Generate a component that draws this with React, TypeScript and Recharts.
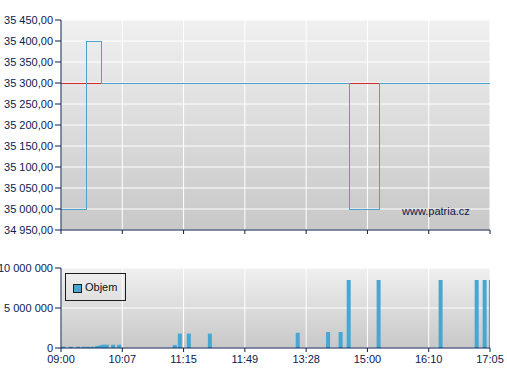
import React from 'react';
import { ComposedChart, Line, Bar, XAxis, YAxis, CartesianGrid, Legend } from 'recharts';

// session slots on the x axis (labels are not linear in time)
const xTickSlots = [0, 60, 120, 180, 240, 300, 360, 420];
const xTickLabels = ['09:00', '10:07', '11:15', '11:49', '13:28', '15:00', '16:10', '17:05'];

const priceTicks = [34950, 35000, 35050, 35100, 35150, 35200, 35250, 35300, 35350, 35400, 35450];
const priceSlots = [0, 25, 40, 282, 311.5, 420];
const priceValues = [35000, 35400, 35300, 35000, 35300, 35300];
const refPrice = 35300;

const volumeTicks = [0, 5000000, 10000000];
const volumeSlots = [2.3, 9.8, 17.1, 22.5, 26.7, 31, 35.6, 38.5, 41.4, 45, 51.2, 57.1, 111.6, 116.5, 125.3, 145.9, 231.9, 261.6, 273.9, 281.8, 311.1, 371.8, 407.1, 414.9, 421];
const volumeValues = [160000, 160000, 160000, 160000, 160000, 160000, 250000, 330000, 410000, 410000, 410000, 410000, 380000, 1800000, 1800000, 1800000, 1900000, 2000000, 2000000, 8500000, 8500000, 8500000, 8500000, 8500000, 8500000];

const priceData = priceSlots.map((slot, i) => ({ slot, price: priceValues[i], ref: refPrice }));
const volumeData = volumeSlots.map((slot, i) => ({ slot, vol: volumeValues[i] }));

const NAVY = '#0a2050';
const BLUE = '#47a7d3';
const FONT = '"Liberation Sans", Arial, sans-serif';

const spaced = (s: string) => s.replace(/\B(?=(\d{3})+(?!\d))/g, ' ');
const fmtPrice = (v: number) => {
  const [i, d] = v.toFixed(2).split('.');
  return spaced(i) + ',' + d;
};
const fmtVol = (v: number) => spaced(String(v));
const fmtSlot = (v: number) => xTickLabels[xTickSlots.indexOf(v)] ?? '';

const tickStyle = { fill: NAVY, fontSize: 11, fontFamily: FONT };

// y tick without recharts' word wrapping
function YTick(props: any) {
  const { x, y, payload, fmt } = props;
  return (
    <text x={x} y={y} dy={4} textAnchor="end" fill={NAVY} fontSize={11} fontFamily={FONT}>
      {fmt(payload.value)}
    </text>
  );
}

// fixed 4px bar centred on its slot
function VolBar(props: any) {
  const { x, y, width, height } = props;
  if (!height || height <= 0) return null;
  const cx = x + width / 2;
  return <rect x={cx - 2} y={y} width={4} height={height} fill={BLUE} />;
}

function VolumeLegend() {
  return (
    <div
      style={{
        width: 61,
        height: 28,
        boxSizing: 'border-box',
        border: '1px solid #1c1c1c',
        position: 'relative',
        fontFamily: FONT,
        fontSize: 11,
        color: '#111',
      }}
    >
      <span
        style={{
          position: 'absolute',
          left: 7,
          top: 10,
          width: 7,
          height: 7,
          background: BLUE,
          border: '1px solid #1c1c1c',
        }}
      />
      <span style={{ position: 'absolute', left: 19, top: 7 }}>Objem</span>
    </div>
  );
}

export default function App() {
  return (
    <div style={{ position: 'absolute', left: 0, top: 0, width: 507, height: 380, background: '#fff' }}>
      <ComposedChart width={507} height={240} data={priceData} margin={{ top: 20, right: 17, bottom: 0, left: 0 }}>
        <defs>
          <linearGradient id="bgPrice" x1="0" y1="0" x2="0" y2="1">
            <stop offset="0%" stopColor="#f0f0f0" />
            <stop offset="100%" stopColor="#c8c8c8" />
          </linearGradient>
        </defs>
        <CartesianGrid stroke="#ffffff" fill="url(#bgPrice)" fillOpacity={1} />
        <XAxis
          type="number"
          dataKey="slot"
          domain={[0, 420]}
          ticks={xTickSlots}
          interval={0}
          tickFormatter={() => ''}
          height={10}
          tickSize={4}
          stroke={NAVY}
        />
        <YAxis
          type="number"
          domain={[34950, 35450]}
          ticks={priceTicks}
          interval={0}
          width={61}
          tick={<YTick fmt={fmtPrice} />}
          stroke={NAVY}
        />
        <Line
          dataKey="ref"
          stroke="#d42a2a"
          strokeWidth={1}
          shapeRendering="crispEdges"
          dot={false}
          isAnimationActive={false}
        />
        <Line
          type="stepAfter"
          dataKey="price"
          stroke="#4aa3cf"
          strokeWidth={1}
          shapeRendering="crispEdges"
          dot={false}
          isAnimationActive={false}
        />
      </ComposedChart>

      <div
        style={{
          position: 'absolute',
          left: 402,
          top: 205,
          fontFamily: FONT,
          fontSize: 11,
          color: NAVY,
        }}
      >
        www.patria.cz
      </div>

      <ComposedChart width={507} height={140} data={volumeData} margin={{ top: 28, right: 17, bottom: 0, left: 0 }}>
        <defs>
          <linearGradient id="bgVol" x1="0" y1="0" x2="0" y2="1">
            <stop offset="0%" stopColor="#f0f0f0" />
            <stop offset="100%" stopColor="#c8c8c8" />
          </linearGradient>
        </defs>
        <CartesianGrid stroke="#ffffff" fill="url(#bgVol)" fillOpacity={1} />
        <XAxis
          type="number"
          dataKey="slot"
          domain={[0, 420]}
          allowDataOverflow
          ticks={xTickSlots}
          interval={0}
          tickFormatter={fmtSlot}
          height={32}
          tickSize={4}
          tickMargin={3}
          tick={tickStyle}
          stroke={NAVY}
        />
        <YAxis
          type="number"
          domain={[0, 10000000]}
          ticks={volumeTicks}
          interval={0}
          width={61}
          tick={<YTick fmt={fmtVol} />}
          stroke={NAVY}
        />
        <Legend
          layout="horizontal"
          verticalAlign="middle"
          align="center"
          wrapperStyle={{ left: 65, top: 33, width: 61, height: 28 }}
          content={() => <VolumeLegend />}
        />
        <Bar dataKey="vol" name="Objem" fill={BLUE} barSize={4} shape={<VolBar />} isAnimationActive={false} />
      </ComposedChart>
    </div>
  );
}
